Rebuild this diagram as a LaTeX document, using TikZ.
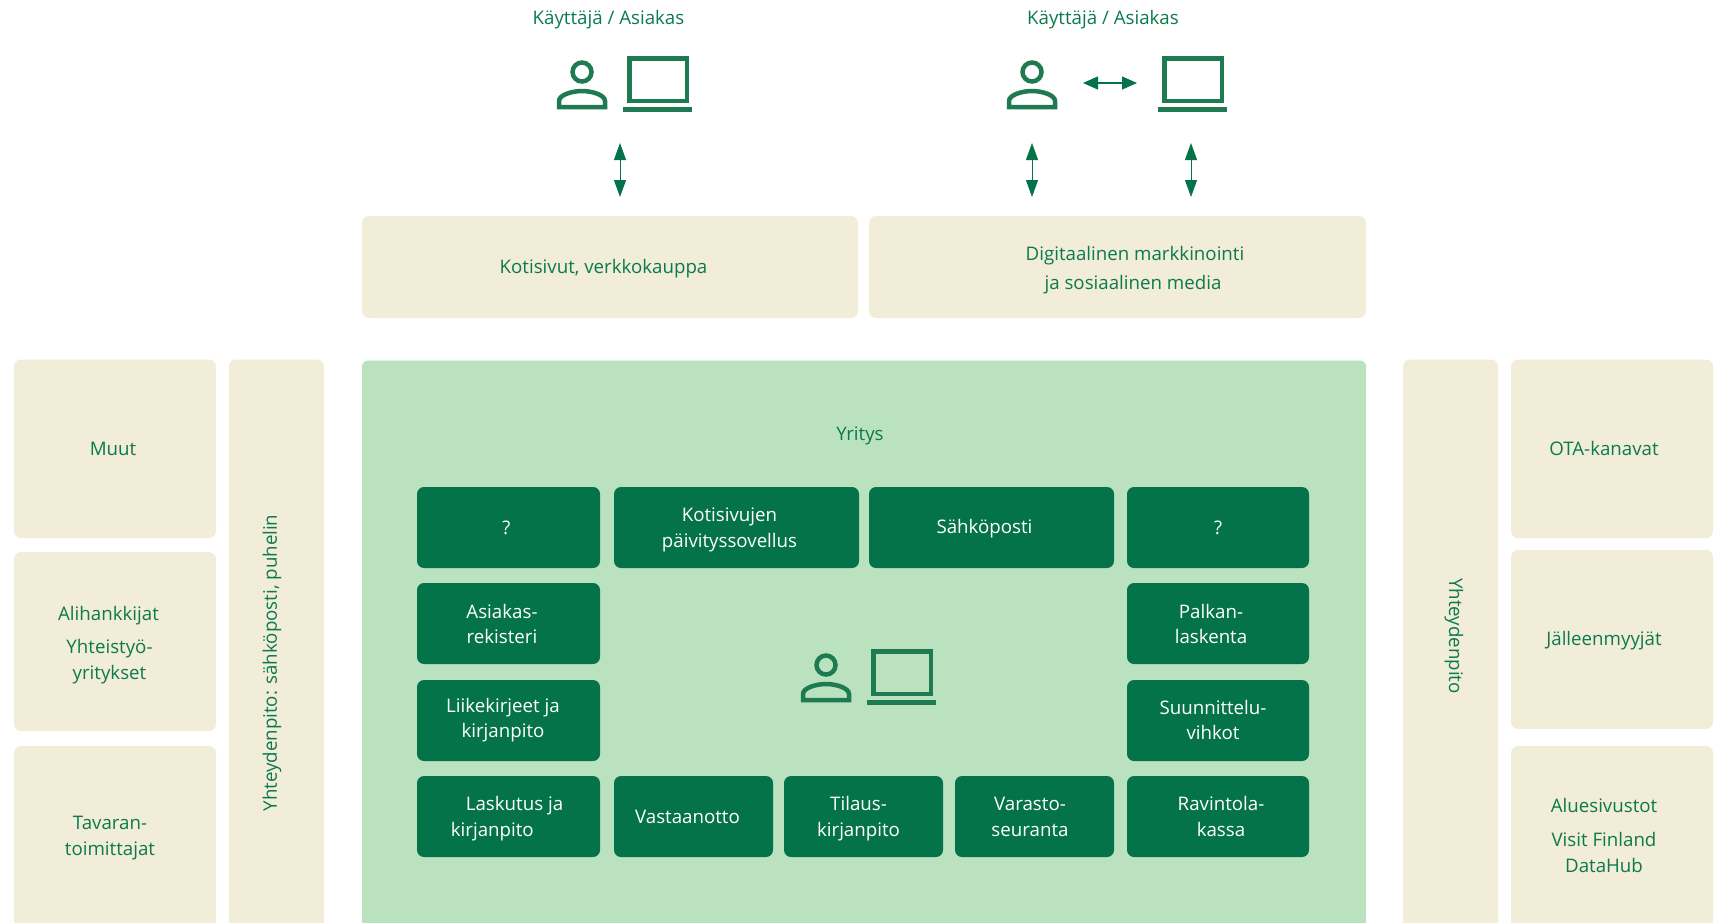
\documentclass[tikz,border=0pt]{standalone}
\usepackage{fontspec}
\setmainfont{Open Sans}
\usetikzlibrary{arrows.meta}
\definecolor{dkgreen}{HTML}{04734A}
\definecolor{txgreen}{HTML}{0B7A4D}
\definecolor{icgreen}{HTML}{1E7A50}
\definecolor{cream}{HTML}{F2EDD8}
\definecolor{ltgreen}{HTML}{BBE2BE}
\newcommand{\panel}[6]{\node[#6, minimum width={(#4-#2)*1pt}, minimum height={(#5-#3)*1pt}] (#1) at ({(#2+#4)/2},{(#3+#5)/2}) {};}
\tikzset{
  x=1pt,y=-1pt,
  basebox/.style={rectangle,inner sep=0pt,outer sep=0pt,draw=none},
  creambox/.style={basebox,fill=cream,rounded corners=7pt},
  yritysbox/.style={basebox,fill=ltgreen,rounded corners=6pt},
  darkbox/.style={basebox,fill=dkgreen,rounded corners=7pt},
  gtext/.style={text=txgreen,inner sep=0pt,align=center,font=\fontsize{18.7}{26}\selectfont},
  wtext/.style={text=white,inner sep=0pt,align=center,font=\fontsize{18.7}{26}\selectfont},
  wtight/.style={wtext,font=\fontsize{18.7}{25}\selectfont},
  dblarrow/.style={draw=dkgreen,line width=1pt,{Triangle[length=17pt,width=12pt]}-{Triangle[length=17pt,width=12pt]}},
  harrow/.style={draw=dkgreen,line width=1.2pt,{Triangle[length=15pt,width=13pt]}-{Triangle[length=15pt,width=13pt]}},
  personicon/.pic={
    \draw[icgreen,line width=4.5pt] (0,0) circle (9.5pt);
    \draw[icgreen,line width=4.5pt,line join=miter] (-23,35) -- (-23,29) .. controls (-23,23) and (-10,19) .. (0,19) .. controls (10,19) and (23,23) .. (23,29) -- (23,35) -- cycle;
  },
  laptopicon/.pic={
    \draw[icgreen,line width=4.5pt] (2.25,-13.75) rectangle (59.75,28.75);
    \fill[icgreen] (-4,34.5) rectangle (65,39.5);
  }
}
\begin{document}
\begin{tikzpicture}
\useasboundingbox (0,0) rectangle (1719,922);
\clip (0,0) rectangle (1719,922);
% top panels
\panel{web}{362}{216}{858}{318}{creambox}
\panel{digi}{869}{216}{1366}{318}{creambox}
% left and right
\panel{muut}{14}{359.5}{216}{538}{creambox}
\panel{ali}{14}{552}{216}{731}{creambox}
\panel{tava}{14}{746}{216}{960}{creambox}
\panel{yhtl}{229}{359.5}{324}{960}{creambox}
\panel{yhtr}{1403}{359.5}{1498}{960}{creambox}
\panel{ota}{1511}{359.5}{1713}{538}{creambox}
\panel{jall}{1511}{550}{1713}{729}{creambox}
\panel{alue}{1511}{746}{1713}{960}{creambox}
% company
\panel{yritys}{362}{360.5}{1366}{960}{yritysbox}
\panel{d1}{417}{487}{600}{568}{darkbox}
\panel{d2}{614}{487}{859}{568}{darkbox}
\panel{d3}{869}{487}{1114}{568}{darkbox}
\panel{d4}{1127}{487}{1309}{568}{darkbox}
\panel{d5}{417}{583}{600}{664}{darkbox}
\panel{d6}{1127}{583}{1309}{664}{darkbox}
\panel{d7}{417}{680}{600}{761}{darkbox}
\panel{d8}{1127}{680}{1309}{761}{darkbox}
\panel{d9}{417}{776}{600}{857}{darkbox}
\panel{d10}{614}{776}{773}{857}{darkbox}
\panel{d11}{784}{776}{943}{857}{darkbox}
\panel{d12}{955}{776}{1114}{857}{darkbox}
\panel{d13}{1127}{776}{1309}{857}{darkbox}
% texts
\node[gtext] (tu1) at (608.5,19.5) {Käyttäjä / Asiakas};
\node[gtext] (tu2) at (1103,19.5) {Käyttäjä / Asiakas};
\node[gtext] (tweb) at (603.5,269) {Kotisivut, verkkokauppa};
\node[gtext] (tdigi1) at (1135,256) {Digitaalinen markkinointi};
\node[gtext] (tdigi2) at (1133,285) {ja sosiaalinen media};
\node[gtext] (tyr) at (860,435.5) {Yritys};
\node[gtext] (tmuut) at (113,449) {Muut};
\node[gtext] (tali) at (108.5,616) {Alihankkijat};
\node[gtext] (tyht) at (109.5,662) {Yhteistyö-\\yritykset};
\node[gtext] (ttava) at (110,838) {Tavaran-\\toimittajat};
\node[gtext,rotate=90] (tyhtl) at (272,663) {Yhteydenpito: sähköposti, puhelin};
\node[gtext,rotate=-90] (tyhtr) at (1454,636) {Yhteydenpito};
\node[gtext] (tota) at (1604,448) {OTA-kanavat};
\node[gtext] (tjall) at (1604,640.5) {Jälleenmyyjät};
\node[gtext] (talue) at (1604,805) {Aluesivustot};
\node[gtext] (tvisit) at (1604,852) {Visit Finland\\DataHub};
\node[wtext] (td1) at (506.5,528) {?};
\node[wtext] (td2) at (729.5,530) {Kotisivujen\\päivityssovellus};
\node[wtext] (td3) at (984.5,529) {Sähköposti};
\node[wtext] (td4) at (1218,528) {?};
\node[wtight] (td5) at (502,623.5) {Asiakas-\\rekisteri};
\node[wtight] (td6) at (1211,623.5) {Palkan-\\laskenta};
\node[wtight] (td7) at (503,720.5) {Liikekirjeet ja\\kirjanpito};
\node[wtight] (td8) at (1213,719.5) {Suunnittelu-\\vihkot};
\node[wtext,align=left] (td9) at (507,818.5) {\hspace*{15pt}Laskutus ja\\kirjanpito};
\node[wtext] (td10) at (687.5,817) {Vastaanotto};
\node[wtext] (td11) at (858.5,818.5) {Tilaus-\\kirjanpito};
\node[wtext] (td12) at (1030,817) {Varasto-\\seuranta};
\node[wtext] (td13) at (1221,816) {Ravintola-\\kassa};
% icons
\pic (pa) at (582,72) {personicon};
\pic (la) at (627,72) {laptopicon};
\pic (pb) at (1032,72) {personicon};
\pic (lb) at (1162,72) {laptopicon};
\pic (pc) at (826,665) {personicon};
\pic (lc) at (871,665) {laptopicon};
% arrows
\coordinate (a1t) at (620,143); \coordinate (a1b) at (620,197);
\coordinate (a2t) at (1032,143); \coordinate (a2b) at (1032,197);
\coordinate (a3t) at (1191,143); \coordinate (a3b) at (1191,197);
\coordinate (hl) at (1083,83); \coordinate (hr) at (1137,83);
\draw[dblarrow] (a1t) -- (a1b);
\draw[dblarrow] (a2t) -- (a2b);
\draw[dblarrow] (a3t) -- (a3b);
\draw[harrow] (hl) -- (hr);
\end{tikzpicture}
\end{document}
